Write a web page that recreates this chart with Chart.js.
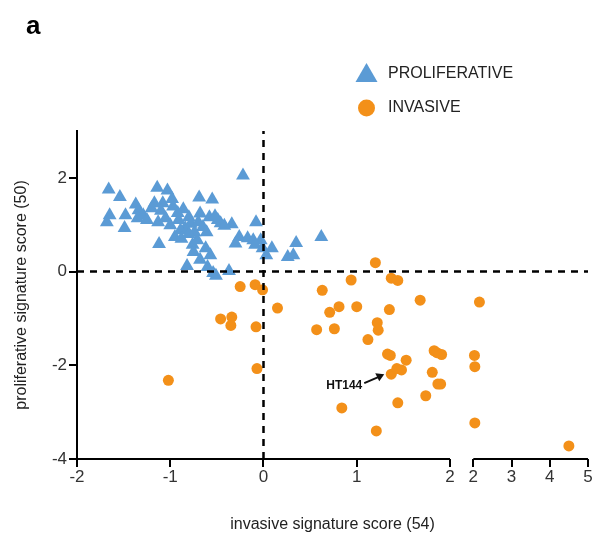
<!DOCTYPE html>
<html>
<head>
<meta charset="utf-8">
<script src="https://cdn.jsdelivr.net/npm/chart.js@4.4.0/dist/chart.umd.min.js"></script>
<style>
    body { margin: 0; background: #fff; }
    #chart_area { width: 603px; height: 542px; }
</style>
</head>
<body>
<div id="chart_area"><canvas id="scores"></canvas></div>
<script>
// Proliferative samples (blue triangles)
var prolifX = [-1.66, -1.54, -1.65, -1.68, -1.48, -1.37, -1.34, -1.35, -1.49, -1.14,
    -1.03, -1.17, -1.08, -0.97, -0.86, -1.13, -1.05, -1.00, -1.12, -0.95,
    -0.84, -0.89, -0.80, -0.69, -0.55, -0.68, -0.58, -0.49, -0.46, -0.34,
    -0.65, -0.76, -0.71, -0.75, -0.82, -0.57, -0.60, -0.54, -0.51, -0.37,
    -0.22, -0.08, -0.26, -0.17, -0.11, -0.03, -0.09, -0.01, 0.09, 0.03,
    0.26, 0.32, 0.35, 0.62, -0.91, -0.74, -0.61, -0.68, -1.29, -0.98, -0.62,
    -1.20, -1.10, -0.92, -0.78, -0.70, -0.88, -0.80, -1.25, -0.52, -0.42, -0.30];
var prolifY = [1.75, 1.59, 1.20, 1.05, 1.20, 1.43, 1.31, 1.14, 0.93, 1.79,
    1.73, 1.46, 1.46, 1.39, 1.33, 1.05, 1.14, 0.99, 0.59, 0.74,
    0.93, 0.88, 1.16, 1.58, 1.54, 1.24, 1.16, 1.10, 1.03, 1.01,
    0.95, 0.57, 0.67, 0.42, 0.12, 0.35, 0.10, -0.03, -0.09, 0.01,
    2.05, 1.05, 0.74, 0.71, 0.67, 0.67, 0.57, 0.50, 0.50, 0.35,
    0.31, 0.35, 0.61, 0.74, 1.10, 0.84, 0.84, 0.25, 1.20, 1.55, 0.50,
    1.35, 1.30, 1.25, 1.02, 1.05, 0.70, 0.80, 1.10, 1.18, 0.98, 0.60];

// Invasive samples (orange circles)
var invasiveX = [1.20, -0.25, -0.09, -0.01, 0.94, 1.37, 1.44, 0.63, 0.15, 1.68,
    2.16, 0.71, 0.81, 1.00, 1.35, -0.46, -0.34, -0.35, -0.08, 1.22,
    1.23, 0.57, 0.76, 1.12, 1.33, 1.36, 1.53, 1.83, 1.86, 1.91,
    2.03, 2.04, -0.07, 1.37, 1.43, 1.48, 1.81, 1.87, 1.90, 1.74,
    1.44, 0.84, 2.04, 1.21, 4.50, -1.02];
var invasiveY = [0.19, -0.32, -0.28, -0.39, -0.18, -0.14, -0.19, -0.40, -0.78, -0.61,
    -0.65, -0.87, -0.75, -0.75, -0.81, -1.01, -0.97, -1.15, -1.18, -1.09,
    -1.25, -1.24, -1.22, -1.45, -1.76, -1.79, -1.89, -1.69, -1.73, -1.77,
    -1.79, -2.03, -2.07, -2.19, -2.07, -2.10, -2.15, -2.40, -2.40, -2.65,
    -2.80, -2.91, -3.23, -3.40, -3.72, -2.32];

// The one labelled sample
var labelledName = "HT144";
var labelledIndex = 33;

var xTicksLeft = [-2, -1, 0, 1, 2];
var xTicksRight = [2, 3, 4, 5];
var yTicks = [-4, -2, 0, 2];

var blue = "#5b9bd5";
var orange = "#f39019";
Chart.defaults.font.family = "'Liberation Sans', Arial, sans-serif";

// Broken x axis: -2..2 kept as is, 2..5 squeezed and placed after a small gap
var BREAK_AT = 2;
var GAP = 0.25;
var SQUEEZE = 0.41;

function toAxis(x, rightPart) {
    if (rightPart === undefined) rightPart = x > BREAK_AT;
    if (!rightPart) return x;
    return BREAK_AT + GAP + (x - BREAK_AT) * SQUEEZE;
}

var xTickValues = xTicksLeft.map(function (v) { return toAxis(v, false); })
    .concat(xTicksRight.map(function (v) { return toAxis(v, true); }));
var xTickLabels = xTicksLeft.concat(xTicksRight).map(String);

function toPoints(xs, ys) {
    return xs.map(function (x, i) { return { x: toAxis(x), y: ys[i] }; });
}

// Draws panel letter, legend, HT144 arrow and the two pieces of the x axis line
var panelExtras = {
    id: "panelExtras",
    afterDraw: function (chart) {
        var ctx = chart.ctx;
        var xs = chart.scales.x;
        var ys = chart.scales.y;
        ctx.save();

        ctx.fillStyle = "#000";
        ctx.font = "bold 26px 'Liberation Sans', Arial";
        ctx.textBaseline = "alphabetic";
        ctx.fillText("a", 26, 34);

        // legend
        ctx.fillStyle = blue;
        ctx.beginPath();
        ctx.moveTo(366.5, 63);
        ctx.lineTo(377.5, 82);
        ctx.lineTo(355.5, 82);
        ctx.closePath();
        ctx.fill();
        ctx.fillStyle = orange;
        ctx.beginPath();
        ctx.arc(366.5, 108, 8.5, 0, Math.PI * 2);
        ctx.fill();
        ctx.fillStyle = "#222";
        ctx.font = "16px 'Liberation Sans', Arial";
        ctx.textBaseline = "middle";
        ctx.fillText(chart.data.datasets[2].label, 388, 74);
        ctx.fillText(chart.data.datasets[3].label, 388, 108);

        // labelled sample
        var px = xs.getPixelForValue(toAxis(invasiveX[labelledIndex]));
        var py = ys.getPixelForValue(invasiveY[labelledIndex]);
        ctx.strokeStyle = "#111";
        ctx.fillStyle = "#111";
        ctx.lineWidth = 2;
        ctx.beginPath();
        ctx.moveTo(px - 27, py + 9);
        ctx.lineTo(px - 13, py + 3);
        ctx.stroke();
        ctx.beginPath();
        ctx.moveTo(px - 7, py);
        ctx.lineTo(px - 16, py - 1);
        ctx.lineTo(px - 12, py + 7);
        ctx.closePath();
        ctx.fill();
        ctx.font = "bold 12px 'Liberation Sans', Arial";
        ctx.textAlign = "right";
        ctx.fillText(labelledName, px - 29, py + 11);

        // x axis line, broken at 2
        var yAxis = xs.top;
        ctx.strokeStyle = "#000";
        ctx.lineWidth = 2;
        ctx.beginPath();
        ctx.moveTo(xs.getPixelForValue(toAxis(xTicksLeft[0], false)) - 1, yAxis);
        ctx.lineTo(xs.getPixelForValue(toAxis(BREAK_AT, false)), yAxis);
        ctx.moveTo(xs.getPixelForValue(toAxis(BREAK_AT, true)), yAxis);
        ctx.lineTo(xs.getPixelForValue(toAxis(xTicksRight[xTicksRight.length - 1], true)), yAxis);
        ctx.stroke();

        ctx.restore();
    }
};

var dashStyle = { borderColor: "#000", borderWidth: 2.5, borderDash: [7, 6], pointRadius: 0, showLine: true, fill: false };

new Chart("scores", {
    type: "scatter",
    data: {
        datasets: [
            Object.assign({
                type: "line", label: "y = 0",
                data: [{ x: toAxis(xTicksLeft[0], false), y: 0 }, { x: toAxis(5, true), y: 0 }]
            }, dashStyle),
            Object.assign({
                type: "line", label: "x = 0",
                data: [{ x: 0, y: yTicks[0] }, { x: 0, y: 3 }]
            }, dashStyle),
            {
                label: "PROLIFERATIVE",
                data: toPoints(prolifX, prolifY),
                pointStyle: "triangle",
                pointRadius: 8,
                backgroundColor: blue,
                borderColor: blue,
                borderWidth: 0,
                clip: false
            },
            {
                label: "INVASIVE",
                data: toPoints(invasiveX, invasiveY),
                pointStyle: "circle",
                pointRadius: 5.5,
                backgroundColor: orange,
                borderColor: orange,
                borderWidth: 0,
                clip: false
            }
        ]
    },
    options: {
        responsive: true,
        maintainAspectRatio: false,
        animation: false,
        layout: { padding: { top: 131, right: 15, left: 0, bottom: 0 } },
        plugins: {
            legend: { display: false },
            tooltip: { enabled: false }
        },
        scales: {
            x: {
                type: "linear",
                min: toAxis(xTicksLeft[0], false),
                max: toAxis(5, true),
                afterBuildTicks: function (s) {
                    s.ticks = xTickValues.map(function (v) { return { value: v }; });
                },
                afterFit: function (s) { s.height = 83; },
                ticks: {
                    autoSkip: false,
                    maxRotation: 0,
                    padding: 0,
                    color: "#333",
                    font: { size: 17 },
                    callback: function (value, index) { return xTickLabels[index]; }
                },
                grid: { drawOnChartArea: false, drawTicks: true, tickLength: 8, color: "#000", lineWidth: 2 },
                border: { display: false },
                title: {
                    display: true,
                    text: "invasive signature score (54)",
                    color: "#222",
                    font: { size: 16 },
                    padding: { top: 8, bottom: 8 }
                }
            },
            y: {
                min: yTicks[0],
                max: 3,
                afterBuildTicks: function (s) {
                    s.ticks = yTicks.map(function (v) { return { value: v }; });
                },
                afterFit: function (s) { s.width = 77; },
                ticks: { padding: 2, color: "#333", font: { size: 17 } },
                grid: { drawOnChartArea: false, drawTicks: true, tickLength: 8, color: "#000", lineWidth: 2 },
                border: { display: true, color: "#000", width: 2 },
                title: {
                    display: true,
                    text: "proliferative signature score (50)",
                    color: "#222",
                    font: { size: 16 },
                    padding: { top: 12, bottom: 12 }
                }
            }
        }
    },
    plugins: [panelExtras]
});
</script>
</body>
</html>
